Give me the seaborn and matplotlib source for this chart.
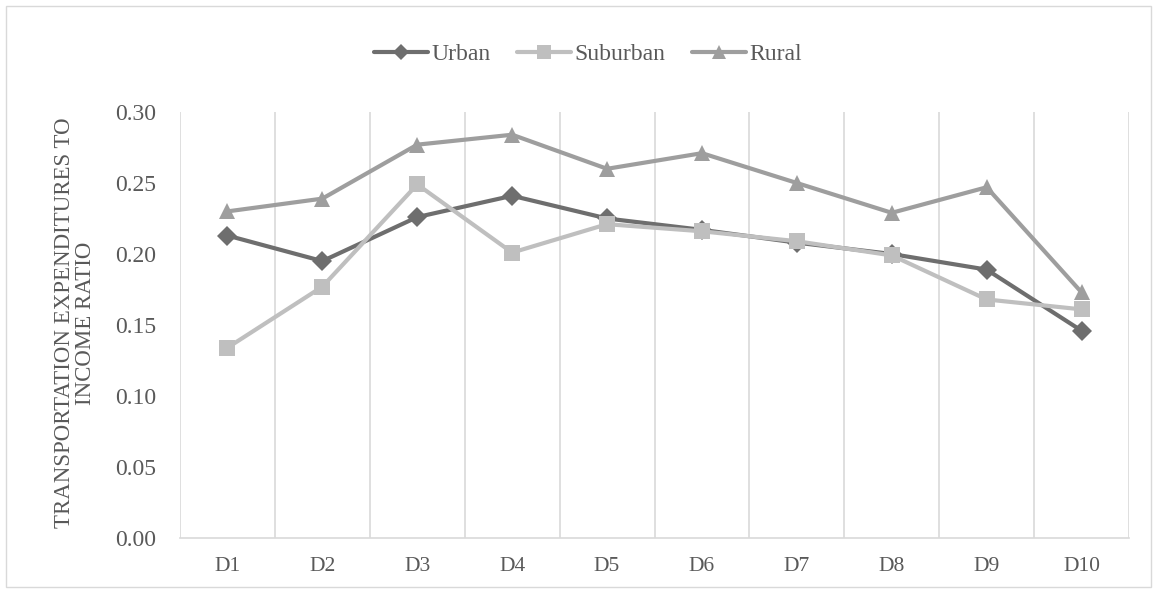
import matplotlib
matplotlib.use("Agg")
import matplotlib.pyplot as plt
import seaborn as sns
import pandas as pd
import numpy as np
from matplotlib.patches import Rectangle

deciles = ["D1", "D2", "D3", "D4", "D5", "D6", "D7", "D8", "D9", "D10"]
urban = [0.213, 0.195, 0.226, 0.241, 0.225, 0.217, 0.208, 0.200, 0.189, 0.146]
suburban = [0.134, 0.177, 0.249, 0.201, 0.221, 0.216, 0.209, 0.199, 0.168, 0.161]
rural = [0.230, 0.239, 0.277, 0.284, 0.260, 0.271, 0.250, 0.229, 0.247, 0.173]
series_names = ["Urban", "Suburban", "Rural"]
yticks = [0.00, 0.05, 0.10, 0.15, 0.20, 0.25, 0.30]
ylabel = "TRANSPORTATION EXPENDITURES TO\nINCOME RATIO"

df = pd.DataFrame({
    "Decile": deciles * 3,
    "Ratio": urban + suburban + rural,
    "Area": sum([[n] * len(deciles) for n in series_names], []),
})

sns.set_theme(style="white")
plt.rcParams["font.family"] = ["Liberation Serif", "DejaVu Serif"]

fig = plt.figure(figsize=(11.57, 5.93), dpi=100)
ax = fig.add_axes([180 / 1157, 1 - 538 / 593, (1129 - 180) / 1157, (538 - 112) / 593])

palette = {"Urban": "#6E6E6E", "Suburban": "#BFBFBF", "Rural": "#9E9E9E"}
markers = {"Urban": "D", "Suburban": "s", "Rural": "^"}

sns.lineplot(data=df, x="Decile", y="Ratio", hue="Area", style="Area",
             hue_order=series_names, style_order=series_names,
             palette=palette, markers=markers, dashes=False, sort=False,
             linewidth=3.0, markersize=12, markeredgewidth=0, ax=ax, legend=True)

for line in ax.lines:
    if line.get_marker() == "D":
        line.set_markersize(10)

ax.set_xlim(-0.5, len(deciles) - 0.5)
ax.set_ylim(0, 0.30)
ax.set_yticks(yticks)
ax.set_yticklabels([f"{v:.2f}" for v in yticks])
ax.set_xticks(range(len(deciles)))
ax.set_xticklabels(deciles)
ax.set_xticks(np.arange(-0.5, len(deciles), 1.0), minor=True)
ax.grid(False)
ax.grid(True, which="minor", axis="x", color="#D9D9D9", linewidth=1.2)
ax.tick_params(axis="both", which="both", length=0)
ax.tick_params(axis="y", pad=17, labelsize=17, labelcolor="#595959")
ax.tick_params(axis="x", pad=14, labelsize=15.5, labelcolor="#595959")
for s in ["top", "right", "left"]:
    ax.spines[s].set_visible(False)
ax.spines["bottom"].set_color("#D9D9D9")
ax.spines["bottom"].set_linewidth(1.2)
ax.set_xlabel("")
ax.set_ylabel("")

fig.text(75 / 1157, 1 - 323 / 593, ylabel, rotation=90, ha="center", va="center",
         multialignment="center", fontsize=16.5, color="#595959", linespacing=1.05)

handles, labels = ax.get_legend_handles_labels()
ax.legend_.remove()
for h in handles:
    h.set_markersize(h.get_markersize() * 0.85)
fig.legend(handles, labels, loc="center", bbox_to_anchor=(588 / 1157, 1 - 54 / 593),
           ncol=3, frameon=False, fontsize=17, handlelength=2.3, handletextpad=0.15,
           columnspacing=1.1, labelcolor="#595959")

fig.patches.append(Rectangle((6 / 1157, 6 / 593), 1 - 12 / 1157, 1 - 12 / 593,
                             transform=fig.transFigure, fill=False,
                             edgecolor="#D9D9D9", linewidth=1.0))

fig.savefig("out.png", dpi=100, facecolor="white")
